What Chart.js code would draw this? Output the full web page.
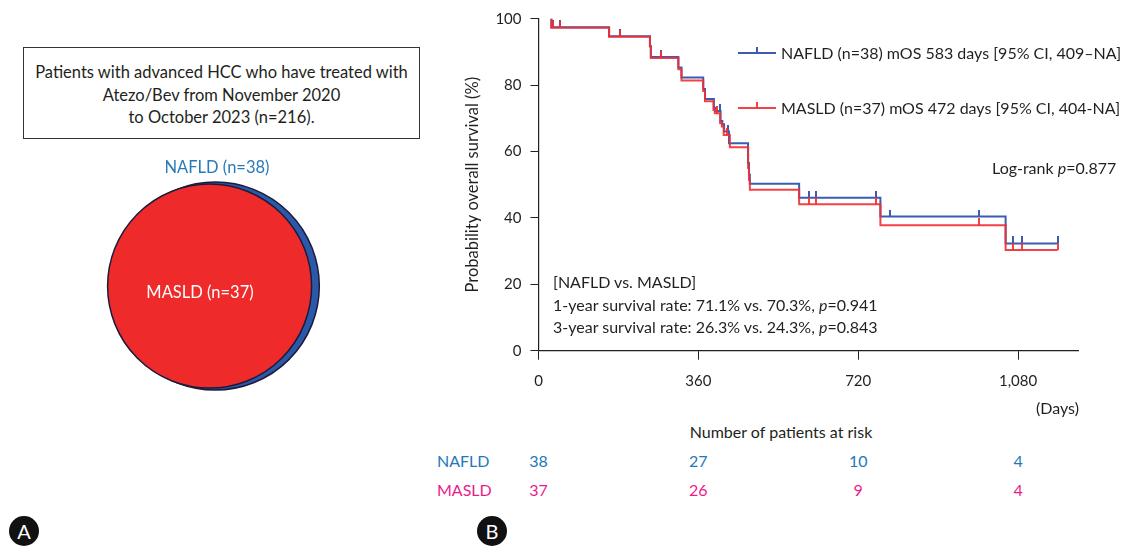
<!DOCTYPE html>
<html>
<head>
<meta charset="utf-8">
<script src="https://cdn.jsdelivr.net/npm/chart.js@4.4.1/dist/chart.umd.min.js"></script>
<style>
  body { margin: 0; background: #fff; }
  #page { position: relative; width: 1126px; height: 547px; font-family: Lato, "Noto Sans", sans-serif; color: #231f20; overflow: hidden; }
  .abs { position: absolute; white-space: nowrap; }
  #boxA { left: 23px; top: 47px; width: 397px; height: 92px; border: 1.5px solid #333; text-align: center; font-size: 16.5px; line-height: 22.5px; padding-top: 13px; box-sizing: border-box; }
  .badge { position: absolute; width: 30px; height: 30px; border-radius: 50%; background: #111; color: #fff; font-size: 20px; line-height: 30px; text-align: center; }
  .txt { font-size: 16px; line-height: 20px; }
</style>
</head>
<body>
<div id="page">
  <div id="boxA" class="abs">Patients with advanced HCC who have treated with<br>Atezo/Bev from November 2020<br>to October 2023 (n=216).</div>
  <div class="abs" style="left:0;top:150px;width:440px;height:270px;"><canvas id="venn"></canvas></div>
  <div class="abs" style="left:117px;top:157px;width:200px;text-align:center;font-size:16.5px;color:#2a7ab8;">NAFLD (n=38)</div>
  <div class="abs" style="left:100px;top:282px;width:200px;text-align:center;font-size:16.5px;color:#fff;">MASLD (n=37)</div>

  <div class="abs" style="left:430px;top:0;width:696px;height:420px;"><canvas id="km"></canvas></div>
  <div id="legend"></div>
  <div class="abs txt" style="left:992px;top:158px;">Log-rank <i>p</i>=0.877</div>
  <div class="abs txt" style="left:553px;top:272px;">[NAFLD vs. MASLD]</div>
  <div class="abs txt" style="left:553px;top:295px;">1-year survival rate: 71.1% vs. 70.3%, <i>p</i>=0.941</div>
  <div class="abs txt" style="left:553px;top:317px;">3-year survival rate: 26.3% vs. 24.3%, <i>p</i>=0.843</div>
  <div class="abs txt" style="left:1036px;top:398px;">(Days)</div>
  <div class="abs txt" style="left:681px;top:422px;width:200px;text-align:center;">Number of patients at risk</div>
  <div id="risk"></div>

  <div class="badge" style="left:9px;top:516px;">A</div>
  <div class="badge" style="left:477px;top:516px;">B</div>
</div>
<script>
// Kaplan-Meier steps (day, survival %)
const nafldDays = [28, 29, 159, 251, 253, 315, 322, 371, 375, 395, 398, 410, 414, 418, 429, 472, 474, 476, 587, 770, 1052, 1169];
const nafldSurv = [100, 97.4, 94.7, 91.8, 88.5, 85.3, 82.3, 78.8, 75.8, 73.2, 72.2, 69.2, 68.2, 66.0, 62.5, 56.5, 53.0, 50.3, 46.1, 40.4, 32.3, 32.3];
const masldDays = [28, 29, 159, 251, 253, 315, 322, 371, 375, 394, 397, 409, 413, 417, 431, 472, 474, 476, 587, 770, 1052, 1169];
const masldSurv = [100, 97.3, 94.6, 91.6, 88.2, 84.8, 81.4, 78.2, 75.1, 72.5, 71.5, 68.5, 67.5, 65.0, 61.3, 55.0, 51.5, 48.5, 44.1, 37.8, 30.3, 30.3];
// censored observations (days)
const nafldCensor = [33, 48, 183, 275, 408, 427, 609, 624, 759, 791, 993, 1068, 1088, 1169];
const masldCensor = [33, 48, 183, 275, 402, 424, 609, 624, 759, 993, 1068, 1088, 1169];

const xTicks = [0, 360, 720, 1080];
const yTicks = [0, 20, 40, 60, 80, 100];
const riskDays = [0, 360, 720, 1080];
const riskNafld = [38, 27, 10, 4];
const riskMasld = [37, 26, 9, 4];

const groupNames = ['NAFLD', 'MASLD'];
const groupN = [38, 37];
const groupLegend = [
  'NAFLD (n=38) mOS 583 days [95% CI, 409\u2013NA]',
  'MASLD (n=37) mOS 472 days [95% CI, 404-NA]'
];

const BLUE = '#3a5db2';
const RED = 'rgba(242,45,50,0.9)';
const INK = '#231f20';

function survAt(days, surv, t) {
  let s = surv[0];
  for (let i = 0; i < days.length; i++) if (days[i] <= t) s = surv[i];
  return s;
}

function tickImage(color) {
  const c = document.createElement('canvas');
  c.width = 2; c.height = 14;
  const g = c.getContext('2d');
  g.fillStyle = color;
  g.fillRect(0, 0, 2, 7);
  return c;
}

function curve(days, surv) {
  return days.map((d, i) => ({ x: d, y: surv[i] }));
}
function marks(times, days, surv) {
  return times.map(t => ({ x: t, y: survAt(days, surv, t) }));
}

const kmChart = new Chart(document.getElementById('km'), {
  type: 'line',
  data: {
    datasets: [
      { data: curve(masldDays, masldSurv), borderColor: RED, borderWidth: 2, stepped: true, pointRadius: 0, fill: false },
      { type: 'scatter', data: marks(masldCensor, masldDays, masldSurv), pointStyle: tickImage(RED), pointRadius: 7 },
      { data: curve(nafldDays, nafldSurv), borderColor: BLUE, borderWidth: 2, stepped: true, pointRadius: 0, fill: false },
      { type: 'scatter', data: marks(nafldCensor, nafldDays, nafldSurv), pointStyle: tickImage(BLUE), pointRadius: 7 }
    ]
  },
  options: {
    responsive: true,
    maintainAspectRatio: false,
    animation: false,
    layout: { padding: { top: 18.7, right: 48, bottom: 0, left: 0 } },
    plugins: { legend: { display: false }, tooltip: { enabled: false } },
    scales: {
      x: {
        type: 'linear', min: 0, max: 1215,
        afterBuildTicks: s => { s.ticks = xTicks.map(v => ({ value: v })); },
        afterFit: s => { s.height = 69.3; },
        grid: { drawOnChartArea: false, drawTicks: true, tickLength: 9, color: INK },
        border: { color: INK, width: 1.2 },
        ticks: { color: INK, padding: 12, font: { family: 'Lato', size: 15 }, maxRotation: 0,
          callback: v => v.toLocaleString('en-US') }
      },
      y: {
        min: 0, max: 100,
        afterBuildTicks: s => { s.ticks = yTicks.map(v => ({ value: v })); },
        afterFit: s => { s.width = 108.5; },
        grid: { drawOnChartArea: false, drawTicks: true, tickLength: 8, color: INK },
        border: { color: INK, width: 1.2 },
        ticks: { color: INK, padding: 9, font: { family: 'Lato', size: 15 } },
        title: { display: true, text: 'Probability overall survival (%)', color: INK,
          font: { family: 'Lato', size: 16.5 }, padding: { top: 33, bottom: 0 } }
      }
    }
  }
});

// legend
const legend = document.getElementById('legend');
[BLUE, RED].forEach((col, i) => {
  const y = [53, 108][i];
  legend.insertAdjacentHTML('beforeend',
    `<div class="abs" style="left:738px;top:${y - 1}px;width:38px;height:2px;background:${col}"></div>` +
    `<div class="abs" style="left:756px;top:${y - 6}px;width:2px;height:6px;background:${col}"></div>` +
    `<div class="abs txt" style="left:781px;top:${y - 10}px;">${groupLegend[i]}</div>`);
});

// number at risk, aligned with the x scale
const risk = document.getElementById('risk');
const xs = kmChart.scales.x;
const rowY = [451, 480];
const rowCol = ['#1f78b8', '#ec1b8c'];
[riskNafld, riskMasld].forEach((row, r) => {
  risk.insertAdjacentHTML('beforeend',
    `<div class="abs txt" style="left:437px;top:${rowY[r]}px;color:${rowCol[r]}">${groupNames[r]}</div>`);
  row.forEach((n, i) => {
    const px = 430 + xs.getPixelForValue(riskDays[i]);
    risk.insertAdjacentHTML('beforeend',
      `<div class="abs txt" style="left:${px - 30}px;width:60px;text-align:center;top:${rowY[r]}px;color:${rowCol[r]}">${n}</div>`);
  });
});

// Venn diagram (MASLD inside NAFLD)
const vennLayout = { nafld: { x: 211, y: 140, r: 104 }, masld: { x: 200, y: 140, r: 102 } };
new Chart(document.getElementById('venn'), {
  type: 'bubble',
  data: {
    datasets: [
      { label: groupNames[1] + ' ' + groupN[1], data: [{ x: vennLayout.masld.x, y: vennLayout.masld.y }], radius: vennLayout.masld.r,
        backgroundColor: '#ee2a2b', borderColor: '#1c1c3a', borderWidth: 1.5, clip: false },
      { label: groupNames[0] + ' ' + groupN[0], data: [{ x: vennLayout.nafld.x, y: vennLayout.nafld.y }], radius: vennLayout.nafld.r,
        backgroundColor: '#2b58a8', borderColor: '#1c1c3a', borderWidth: 1.5, clip: false }
    ]
  },
  options: {
    responsive: true, maintainAspectRatio: false, animation: false,
    layout: { padding: 0 },
    plugins: { legend: { display: false }, tooltip: { enabled: false } },
    scales: {
      x: { display: false, min: 0, max: 440 },
      y: { display: false, min: 0, max: 270, reverse: true }
    }
  }
});
</script>
</body>
</html>
